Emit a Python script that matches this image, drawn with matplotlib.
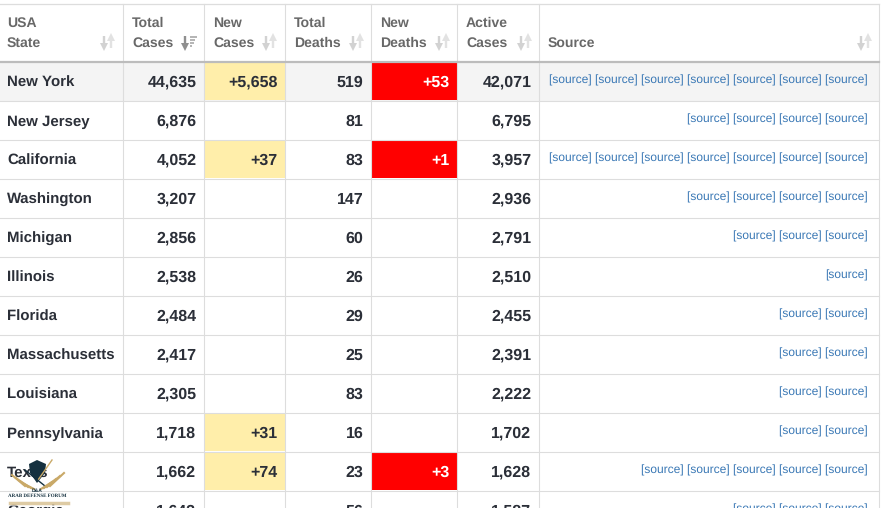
import matplotlib
matplotlib.use("Agg")
import matplotlib.pyplot as plt
from matplotlib.patches import Rectangle, Polygon

plt.rcParams["text.hinting"] = "none"
plt.rcParams["text.hinting_factor"] = 1

states = ["New York", "New Jersey", "California", "Washington", "Michigan", "Illinois",
          "Florida", "Massachusetts", "Louisiana", "Pennsylvania", "Texas", "Georgia"]
total_cases = [44635, 6876, 4052, 3207, 2856, 2538, 2484, 2417, 2305, 1718, 1662, 1643]
new_cases = [5658, 0, 37, 0, 0, 0, 0, 0, 0, 31, 74, 0]
total_deaths = [519, 81, 83, 147, 60, 26, 29, 25, 83, 16, 23, 56]
new_deaths = [53, 0, 1, 0, 0, 0, 0, 0, 0, 0, 3, 0]
active_cases = [42071, 6795, 3957, 2936, 2791, 2510, 2455, 2391, 2222, 1702, 1628, 1587]
source_counts = [7, 4, 7, 4, 3, 1, 2, 2, 2, 2, 5, 3]
headers = [("USA", "State"), ("Total", "Cases"), ("New", "Cases"), ("Total", "Deaths"),
           ("New", "Deaths"), ("Active", "Cases"), ("", "Source")]
col_edges = [0, 123, 204, 285, 371, 457, 539, 879]
header_top, header_bottom, row_h = 3.5, 62, 39

FONT = "Liberation Sans"
INK, HEAD, GRID, LINK = "#2b2f38", "#686868", "#dddddd", "#3a78b5"

fig = plt.figure(figsize=(8.83, 5.08), dpi=100, facecolor="white")
ax = fig.add_axes([0, 0, 1, 1])
ax.set_xlim(0, 883)
ax.set_ylim(508, 0)
ax.axis("off")


def cell(col, row, color):
    ax.add_patch(Rectangle((col_edges[col] + 1, header_bottom + row * row_h),
                           col_edges[col + 1] - col_edges[col] - 1, row_h - 1,
                           fc=color, ec="none", zorder=1))


def val(col, y, s, color=INK):
    ax.text(col_edges[col + 1] - 7.5, y, s, ha="right", va="baseline", family=FONT,
            fontweight="bold", fontsize=11.4, color=color, zorder=3)


def arrow(x, direction, color):
    tip, tail = (49, 36) if direction == "down" else (35, 48)
    ax.plot([x, x], [tail, tip - (3 if direction == "down" else -3)],
            color=color, lw=1.7, solid_capstyle="butt", zorder=3)
    ax.plot([x], [tip - 2 if direction == "down" else tip + 2],
            marker="v" if direction == "down" else "^", ms=5.5, color=color, mew=0, zorder=3)


# Rows
ax.add_patch(Rectangle((0, header_bottom), 879, row_h, fc="#f4f4f4", ec="none", zorder=0))
for r, state in enumerate(states):
    y = header_bottom + r * row_h + 25
    ax.text(7, y, state, ha="left", va="baseline", family=FONT, fontweight="bold",
            fontsize=11.1, color=INK, zorder=3)
    val(1, y, f"{total_cases[r]:,}")
    if new_cases[r]:
        cell(2, r, "#ffeeaa")
        val(2, y, f"+{new_cases[r]:,}")
    val(3, y, f"{total_deaths[r]:,}")
    if new_deaths[r]:
        cell(4, r, "#ff0000")
        val(4, y, f"+{new_deaths[r]:,}", "white")
    val(5, y, f"{active_cases[r]:,}")
    ax.text(867.5, y - 3, " ".join(["[source]"] * source_counts[r]), ha="right",
            va="baseline", family=FONT, fontsize=8.72, color=LINK, zorder=3)

# Grid
ax.plot([0, 879], [header_top] * 2, color=GRID, lw=0.9, zorder=2)
for x in col_edges[1:]:
    ax.plot([x, x], [header_top, 508], color=GRID, lw=0.8, zorder=2)
for r in range(1, 12):
    yy = header_bottom + r * row_h - .5
    ax.plot([0, 879], [yy, yy], color=GRID, lw=0.8, zorder=2)
ax.plot([0, 879], [61.5, 61.5], color="#bcbcbc", lw=1.6, zorder=2.5)

# Header
text_x = [7, 132, 213, 294, 380, 466, 548]
arrow_x = [107.5, 188.5, 269.5, 356, 442, 524, 864]
for c, (h1, h2) in enumerate(headers):
    if h1:
        ax.text(text_x[c], 27, h1, ha="left", va="baseline", family=FONT, fontweight="bold",
                fontsize=10.2, color=HEAD, zorder=3)
    ax.text(text_x[c], 47, h2, ha="left", va="baseline", family=FONT, fontweight="bold",
            fontsize=10.2, color=HEAD, zorder=3)
    if c == 1:
        arrow(arrow_x[c] - 3.5, "down", "#8f8f8f")
        for i, ln in enumerate([7, 5.5, 4, 2.5]):
            yy = 36.5 + i * 3.2
            ax.plot([arrow_x[c] + 1, arrow_x[c] + 1 + ln], [yy, yy], color="#a8a8a8", lw=1.2,
                    solid_capstyle="butt", zorder=3)
    else:
        arrow(arrow_x[c] - 3.5, "down", "#d2d2d2")
        arrow(arrow_x[c] + 3.5, "up", "#e2e2e2")

# Watermark
NAVY, GOLD = "#14303f", "#c9a968"
ax.add_patch(Polygon([(29, 464), (37, 460), (46, 464), (45, 473), (37, 483), (30, 473)],
                     fc=NAVY, ec="none", zorder=5))
ax.plot([38, 52], [480, 460], color=GOLD, lw=1, zorder=5)
ax.plot([25, 45], [470, 486], color=NAVY, lw=1, zorder=5)
for i in range(4):
    ax.plot([12 + i * 4, 25 + i * 3], [475 + i * 3, 486 + i], color=GOLD, lw=1.5, zorder=5)
    ax.plot([64 - i * 4, 50 - i * 3], [473 + i * 3, 486 + i], color=GOLD, lw=1.5, zorder=5)
ax.text(37, 491, "D&A", ha="center", va="center", family=FONT, fontweight="bold",
        fontsize=3.5, color=NAVY, zorder=5)
ax.text(37, 496, "ARAB DEFENSE FORUM", ha="center", va="center", family="Liberation Serif",
        fontweight="bold", fontsize=3.4, color=NAVY, zorder=5)
ax.add_patch(Rectangle((9, 500), 60, 6, fc="white", ec="none", alpha=.6, zorder=4))
ax.plot([10, 68], [503, 503], color=GOLD, lw=2.5, alpha=.6, zorder=5)

fig.savefig("out.png", dpi=100)
